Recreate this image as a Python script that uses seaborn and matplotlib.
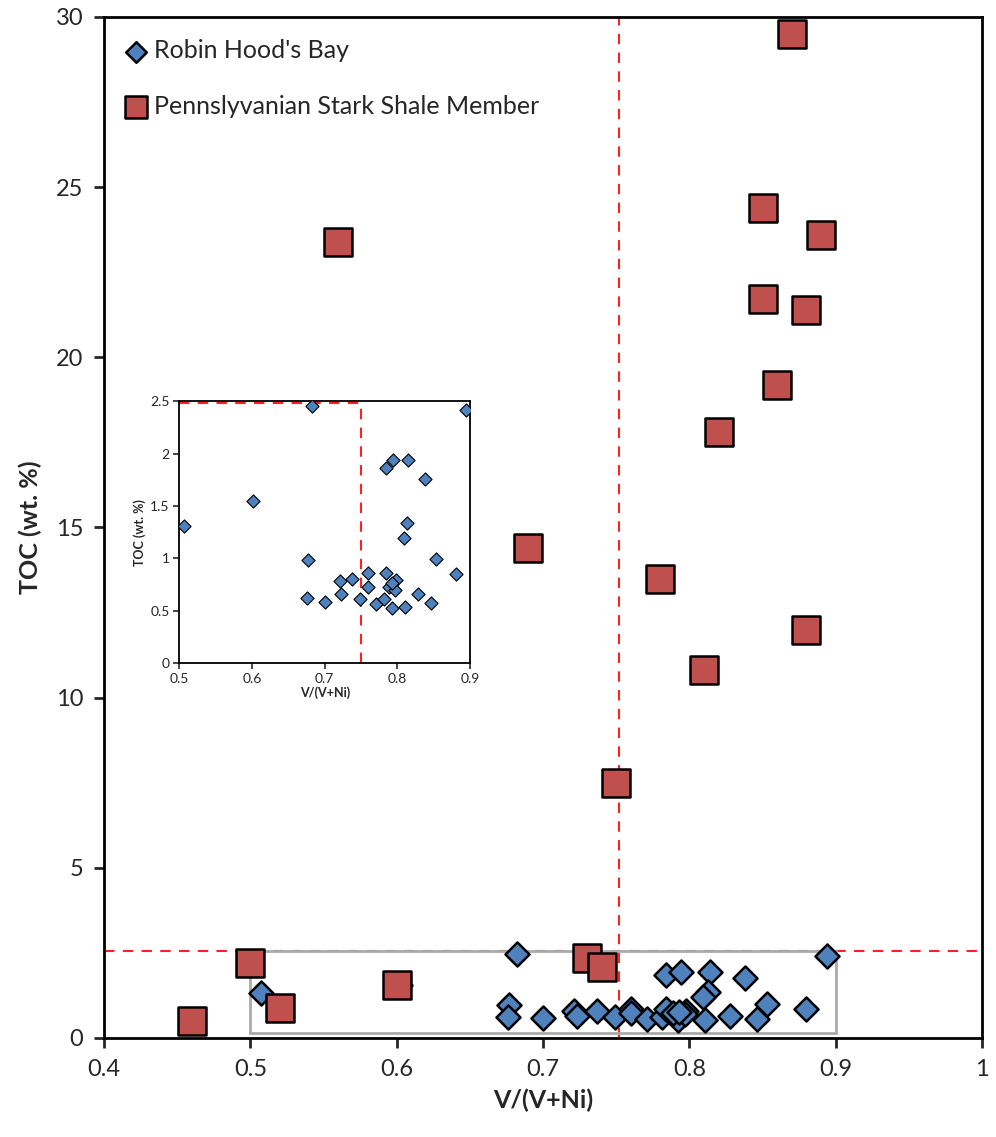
import numpy as np
import pandas as pd
import matplotlib
matplotlib.use("Agg")
import matplotlib.pyplot as plt
import seaborn as sns
from matplotlib.patches import Rectangle

sns.set_style('white')
plt.rcParams['font.family'] = ['Lato', 'DejaVu Sans']

# Robin Hood's Bay (blue diamonds)
rhb_x = [0.507, 0.602, 0.682, 0.894, 0.677, 0.676, 0.700, 0.721, 0.723, 0.737,
         0.749, 0.760, 0.760, 0.771, 0.781, 0.784, 0.784, 0.794, 0.814, 0.838,
         0.813, 0.809, 0.853, 0.880, 0.828, 0.846, 0.811, 0.792, 0.789, 0.798,
         0.797, 0.793]
rhb_toc = [1.31, 1.55, 2.46, 2.42, 0.98, 0.62, 0.58, 0.78, 0.66, 0.80,
           0.61, 0.86, 0.73, 0.56, 0.61, 0.86, 1.86, 1.94, 1.94, 1.76,
           1.34, 1.19, 0.99, 0.85, 0.66, 0.57, 0.53, 0.52, 0.73, 0.79,
           0.70, 0.76]

# Pennsylvanian Stark Shale Member (red squares)
pss_x = [0.46, 0.50, 0.52, 0.60, 0.56, 0.69, 0.73, 0.74, 0.75, 0.78,
         0.81, 0.82, 0.85, 0.85, 0.86, 0.87, 0.88, 0.89, 0.88]
pss_toc = [0.5, 2.2, 0.88, 1.56, 23.4, 14.4, 2.35, 2.09, 7.5, 13.5,
           10.8, 17.8, 24.4, 21.7, 19.2, 29.5, 21.4, 23.6, 12.0]

rhb = pd.DataFrame({'x': rhb_x, 'toc': rhb_toc})
pss = pd.DataFrame({'x': pss_x, 'toc': pss_toc})

blue = '#4F81BD'
red = '#C0504D'

fig = plt.figure(figsize=(9.96, 11.37), dpi=100)
ax = fig.add_axes([0.1044, 0.0871, 0.8816, 0.898])

ax.axvline(0.752, color='#FF2020', ls=(0, (5, 4)), lw=1.5, zorder=1)
ax.axhline(2.55, color='#FF2020', ls=(0, (5, 4)), lw=1.5, zorder=1)
ax.add_patch(Rectangle((0.5, 0.15), 0.4, 2.4, fill=False, ec='#AAAAAA', lw=2, zorder=1))

sns.scatterplot(data=rhb, x='x', y='toc', marker='D', s=150, color=blue,
                edgecolor='black', linewidth=1.8, ax=ax, zorder=3, label="Robin Hood's Bay")
sns.scatterplot(data=pss, x='x', y='toc', marker='s', s=420, color=red,
                edgecolor='black', linewidth=1.8, ax=ax, zorder=4,
                label='Pennslyvanian Stark Shale Member')

ax.set_xlim(0.4, 1.0)
ax.set_ylim(0, 30)
ax.set_xticks([0.4, 0.5, 0.6, 0.7, 0.8, 0.9, 1.0])
ax.set_xticklabels(['0.4', '0.5', '0.6', '0.7', '0.8', '0.9', '1'])
ax.set_yticks([0, 5, 10, 15, 20, 25, 30])
ax.tick_params(axis='both', direction='out', length=7, width=2, labelsize=17,
               bottom=True, left=True, pad=8)
for sp in ax.spines.values():
    sp.set_color('black')
    sp.set_linewidth(2)
ax.set_xlabel('V/(V+Ni)', fontsize=18, fontweight='bold', labelpad=6)
ax.set_ylabel('TOC (wt. %)', fontsize=18, fontweight='bold', labelpad=10)

leg = ax.legend(loc='upper left', frameon=False, fontsize=18, handletextpad=0.3,
                labelspacing=1.3, borderaxespad=0.5, handlelength=0.8,
                bbox_to_anchor=(0.0, 1.0))
leg.legend_handles[0].set_sizes([110])
leg.legend_handles[1].set_sizes([260])

# inset
ins = fig.add_axes([0.180, 0.417, 0.292, 0.230])
ins.plot([0.5, 0.75], [2.48, 2.48], color='#FF2020', ls=(0, (5, 4)), lw=1.5, zorder=1)
ins.plot([0.75, 0.75], [0, 2.48], color='#FF2020', ls=(0, (5, 4)), lw=1.5, zorder=1)
sns.scatterplot(data=rhb, x='x', y='toc', marker='D', s=45, color=blue,
                edgecolor='black', linewidth=0.8, ax=ins, zorder=3, legend=False)
ins.set_xlim(0.5, 0.9)
ins.set_ylim(0, 2.5)
ins.set_xticks([0.5, 0.6, 0.7, 0.8, 0.9])
ins.set_yticks([0, 0.5, 1, 1.5, 2, 2.5])
ins.set_yticklabels(['0', '0.5', '1', '1.5', '2', '2.5'])
ins.tick_params(axis='both', direction='out', length=4, width=1.2, labelsize=10,
                bottom=True, left=True, pad=3)
for sp in ins.spines.values():
    sp.set_color('black')
    sp.set_linewidth(1.3)
ins.set_xlabel('V/(V+Ni)', fontsize=9, fontweight='bold', labelpad=1)
ins.set_ylabel('TOC (wt. %)', fontsize=9, fontweight='bold', labelpad=3)

fig.savefig('out.png', dpi=100)
